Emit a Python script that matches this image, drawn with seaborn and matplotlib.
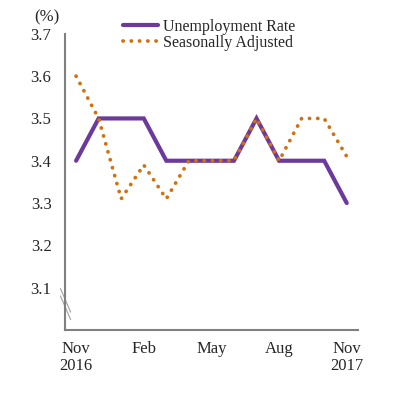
import matplotlib
matplotlib.use("Agg")
import matplotlib.pyplot as plt
import seaborn as sns
import pandas as pd
import numpy as np

# data
months = ["Nov 2016", "Dec", "Jan", "Feb", "Mar", "Apr", "May",
          "Jun", "Jul", "Aug", "Sep", "Oct", "Nov 2017"]
unemployment = [3.4, 3.5, 3.5, 3.5, 3.4, 3.4, 3.4, 3.4, 3.5, 3.4, 3.4, 3.4, 3.3]
seasonal_adj = [3.6, 3.5, 3.31, 3.39, 3.31, 3.4, 3.4, 3.4, 3.5, 3.4, 3.5, 3.5, 3.41]
tick_pos = [0, 3, 6, 9, 12]
tick_labels = ["Nov\n2016", "Feb", "May", "Aug", "Nov\n2017"]
y_ticks = [3.1, 3.2, 3.3, 3.4, 3.5, 3.6, 3.7]

df = pd.DataFrame({"idx": np.arange(len(months)),
                   "Unemployment Rate": unemployment,
                   "Seasonally Adjusted": seasonal_adj})

sns.set_style("white")
plt.rcParams['font.family'] = ['Liberation Serif', 'DejaVu Serif']
plt.rcParams['font.size'] = 12

fig = plt.figure(figsize=(4.05, 3.98), dpi=100)
ax = fig.add_axes([0.160, 0.171, 0.724, 0.744])

purple = "#6B3A9C"
orange = "#D2700F"
grey = "#808080"

sns.lineplot(data=df, x="idx", y="Unemployment Rate", ax=ax, color=purple,
             lw=3.0, label="Unemployment Rate", solid_joinstyle="miter")
sns.lineplot(data=df, x="idx", y="Seasonally Adjusted", ax=ax, color=orange,
             lw=2.7, linestyle=(0, (0.05, 2.15)), dash_capstyle="round",
             label="Seasonally Adjusted")

ax.set_xlim(-0.5, len(months) - 0.5)
ax.set_ylim(3.0, 3.7)
ax.set_xlabel("")
ax.set_ylabel("")

ax.set_yticks(y_ticks)
ax.set_yticklabels([f"{v:.1f}" for v in y_ticks])
ax.set_xticks(tick_pos)
ax.set_xticklabels(tick_labels, linespacing=1.05)
ax.set_xticks(np.arange(-0.5, len(months)), minor=True)
ax.tick_params(axis="x", which="major", length=0, pad=8)
ax.tick_params(axis="x", which="minor", length=4, width=1.5, color=grey,
               direction="out")
ax.tick_params(axis="y", length=3.6, width=1.5, color=grey, direction="out",
               pad=6)

for side in ["top", "right"]:
    ax.spines[side].set_visible(False)
for side in ["left", "bottom"]:
    ax.spines[side].set_color(grey)
    ax.spines[side].set_linewidth(1.5)

# axis break marks
for dy in [0.0, 0.025]:
    ax.plot([-0.015, 0.02], [0.115 + dy, 0.035 + dy], transform=ax.transAxes,
            color="#A0A0A0", lw=0.8, clip_on=False)

ax.text(-0.061, 1.056, "(%)", transform=ax.transAxes, ha="center", va="center")

ax.legend(loc="upper left", bbox_to_anchor=(0.177, 1.072), frameon=False,
          handlelength=2.2, handletextpad=0.3, labelspacing=0.0,
          borderaxespad=0, fontsize=11.5)

fig.savefig("out.png", dpi=100)
